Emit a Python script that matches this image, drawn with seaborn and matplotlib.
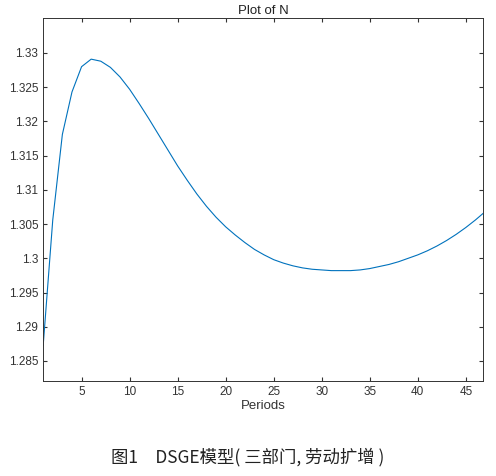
import matplotlib
matplotlib.use("Agg")
import matplotlib.pyplot as plt
import seaborn as sns
import pandas as pd

periods = list(range(1, 48))
values = [1.2872, 1.3056, 1.3181, 1.3243, 1.3280, 1.3291, 1.3288, 1.3279, 1.3265, 1.3247,
          1.3226, 1.3204, 1.3181, 1.3158, 1.3135, 1.3114, 1.3094, 1.3076, 1.3060, 1.3046,
          1.3034, 1.3023, 1.3013, 1.3005, 1.2998, 1.2993, 1.2989, 1.2986, 1.2984, 1.2983,
          1.2982, 1.2982, 1.2982, 1.2983, 1.2985, 1.2988, 1.2991, 1.2995, 1.3000, 1.3005,
          1.3011, 1.3018, 1.3026, 1.3035, 1.3045, 1.3056, 1.3068]
title = "Plot of N"
xlabel = "Periods"
caption = "图1　DSGE模型( 三部门, 劳动扩增 )"

sns.set_style("white")
plt.rcParams['font.family'] = ['Liberation Sans', 'Noto Sans CJK SC', 'DejaVu Sans']

df = pd.DataFrame({"Periods": periods, "N": values})
fig = plt.figure(figsize=(4.96, 4.76), dpi=100)
ax = fig.add_axes([0.087, 0.2, 0.887, 0.762])
sns.lineplot(data=df, x="Periods", y="N", ax=ax, color="#0072BD", linewidth=0.8)
ax.set_xlim(1, 46.8)
ax.set_ylim(1.2821, 1.3351)
ax.set_xticks([5, 10, 15, 20, 25, 30, 35, 40, 45])
ax.set_yticks([1.285, 1.29, 1.295, 1.3, 1.305, 1.31, 1.315, 1.32, 1.325, 1.33])
ax.set_yticklabels(["1.285", "1.29", "1.295", "1.3", "1.305", "1.31", "1.315", "1.32", "1.325", "1.33"])
ax.tick_params(labelsize=8.5, direction="in", length=3, color="#333333", labelcolor="#333333",
               top=True, right=True, bottom=True, left=True)
ax.set_xlabel(xlabel, fontsize=9.5, color="#333333", labelpad=2)
ax.set_ylabel("")
ax.set_title(title, fontsize=9.5, color="#222222", pad=3)
for s in ax.spines.values():
    s.set_color("#333333")
    s.set_linewidth(0.7)
fig.text(0.5, 0.04, caption, ha="center", va="center", fontsize=12.5, fontweight="medium",
         family=['Noto Sans CJK SC', 'DejaVu Sans'], color="#222222")
fig.savefig("out.png", dpi=100)
